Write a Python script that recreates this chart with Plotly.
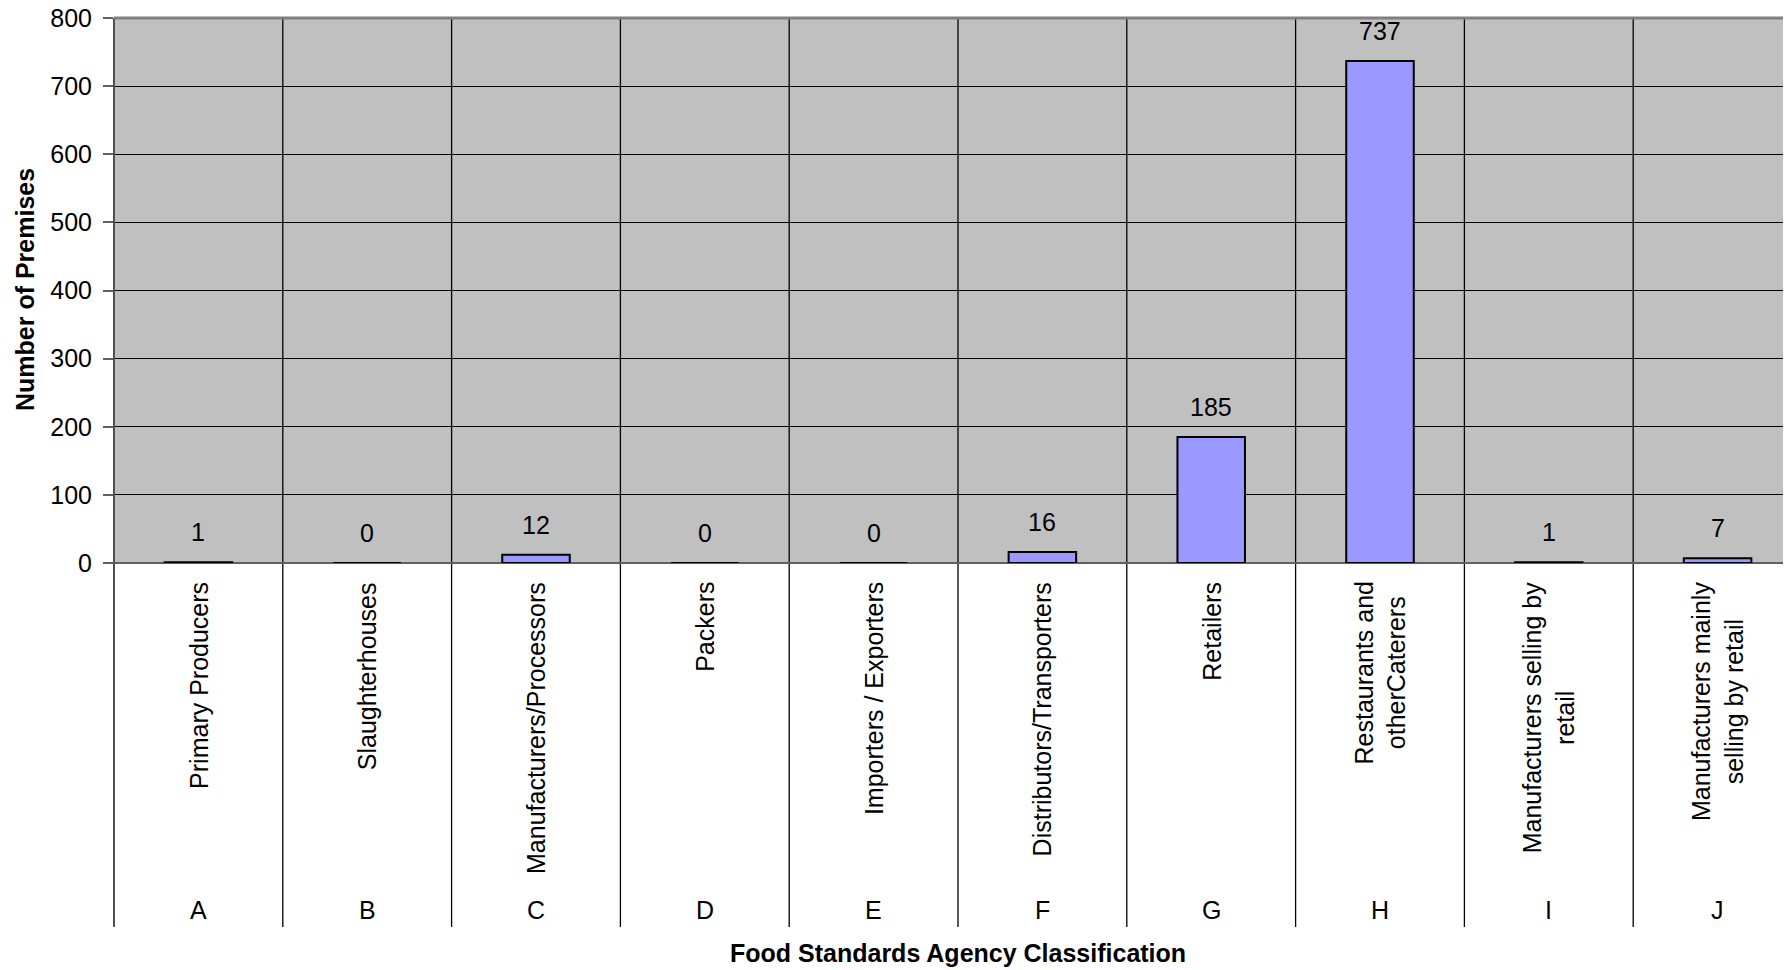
import plotly.graph_objects as go

letters = ["A", "B", "C", "D", "E", "F", "G", "H", "I", "J"]
names = [
    "Primary Producers",
    "Slaughterhouses",
    "Manufacturers/Processors",
    "Packers",
    "Importers / Exporters",
    "Distributors/Transporters",
    "Retailers",
    "Restaurants and<br>otherCaterers",
    "Manufacturers selling by<br>retail",
    "Manufacturers mainly<br>selling by retail",
]
values = [1, 0, 12, 0, 0, 16, 185, 737, 1, 7]
y_ticks = [0, 100, 200, 300, 400, 500, 600, 700, 800]

# browser body margin offsets the figure by 8px; work in screen pixels
OFF = 8
SCREEN_W, SCREEN_H = 1791, 970
W, H = SCREEN_W - OFF, SCREEN_H - OFF
plot_left, plot_top, plot_bottom = 114, 18, 563  # screen px
L = plot_left - OFF
T = plot_top - OFF
B = H - (plot_bottom - OFF)
R = 0
plot_w = W - L - R
plot_h = H - T - B
unit = 168.8  # px per category
x_max = -0.5 + plot_w / unit

def py_to_paper(py):  # screen px -> paper
    return (plot_bottom - py) / plot_h

def px_to_paper(px):
    return (px - plot_left) / plot_w

FONT = "Liberation Sans, Arial, sans-serif"

fig = go.Figure()
fig.add_trace(go.Bar(
    x=list(range(len(letters))),
    y=values,
    marker=dict(color="#9999FF", line=dict(color="black", width=2)),
    width=0.4,
    hoverinfo="y",
))

annotations = []
for i, v in enumerate(values):
    annotations.append(dict(
        x=i, y=v, xref="x", yref="y", text=str(v), showarrow=False,
        yanchor="bottom", xanchor="center", yshift=14,
        font=dict(family=FONT, size=25, color="black"),
    ))
for i, n in enumerate(names):
    annotations.append(dict(
        x=i, y=py_to_paper(580), xref="x", yref="paper", text=n, showarrow=False,
        textangle=-90, yanchor="top", xanchor="center", align="center",
        font=dict(family=FONT, size=25, color="black"),
    ))
for i, l in enumerate(letters):
    annotations.append(dict(
        x=i, y=py_to_paper(910), xref="x", yref="paper", text=l, showarrow=False,
        yanchor="middle", xanchor="center",
        font=dict(family=FONT, size=25, color="black"),
    ))
annotations.append(dict(
    x=px_to_paper(958), y=py_to_paper(953), xref="paper", yref="paper",
    text="<b>Food Standards Agency Classification</b>", showarrow=False,
    xanchor="center", yanchor="middle",
    font=dict(family=FONT, size=25, color="black"),
))
annotations.append(dict(
    x=px_to_paper(25), y=py_to_paper(290), xref="paper", yref="paper",
    text="<b>Number of Premises</b>", showarrow=False, textangle=-90,
    xanchor="center", yanchor="middle",
    font=dict(family=FONT, size=25, color="black"),
))

shapes = []
for i in range(1, len(letters)):
    shapes.append(dict(
        type="line", xref="x", yref="paper", x0=i - 0.5, x1=i - 0.5,
        y0=py_to_paper(927), y1=1, line=dict(color="black", width=1.3), layer="below",
    ))
shapes.append(dict(
    type="line", xref="paper", yref="paper", x0=0, x1=0,
    y0=py_to_paper(927), y1=1, line=dict(color="#505050", width=2),
))
shapes.append(dict(
    type="line", xref="paper", yref="paper", x0=0, x1=1,
    y0=1, y1=1, line=dict(color="#808080", width=3),
))

fig.update_layout(
    width=W, height=H,
    margin=dict(l=L, r=R, t=T, b=B, pad=0, autoexpand=False),
    paper_bgcolor="white",
    plot_bgcolor="#C0C0C0",
    showlegend=False,
    bargap=0.6,
    annotations=annotations,
    shapes=shapes,
    font=dict(family=FONT, size=25, color="black"),
)
fig.update_xaxes(
    range=[-0.5, x_max], showticklabels=False, showgrid=False, zeroline=False,
    ticks="", showline=False, fixedrange=True, automargin=False,
)
fig.update_yaxes(
    range=[0, 800], tickvals=y_ticks, ticktext=[str(t) for t in y_ticks],
    showgrid=True, gridcolor="black", gridwidth=1.3,
    zeroline=True, zerolinecolor="#606060", zerolinewidth=2,
    ticks="outside", ticklen=10, tickwidth=2, tickcolor="#606060",
    tickfont=dict(family=FONT, size=25, color="black"),
    ticklabelstandoff=6, ticklabeloverflow="allow",
    showline=False, fixedrange=True, automargin=False,
)

fig.write_html("out.html")
